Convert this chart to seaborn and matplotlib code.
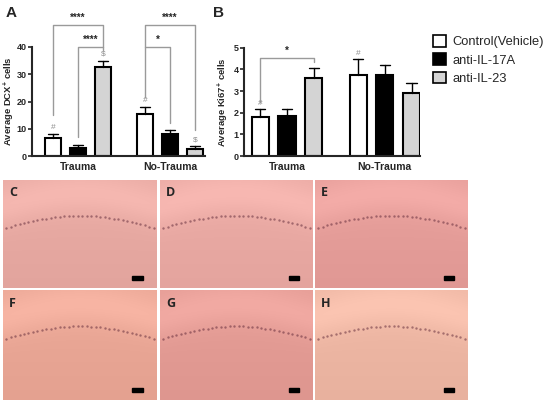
"""Figure: DCX+ and Ki67+ counts per treatment, with histology panels."""

import numpy as np
import pandas as pd
import matplotlib
matplotlib.use("Agg")
import matplotlib.pyplot as plt
import seaborn as sns
from matplotlib.patches import Patch, Rectangle

# --- data ---
groups = ["Trauma", "No-Trauma"]
treatments = ["Control(Vehicle)", "anti-IL-17A", "anti-IL-23"]
dcx_mean = [6.7, 3.1, 32.6, 15.3, 8.1, 2.4]
dcx_sem = [1.5, 1.1, 2.4, 2.8, 1.5, 1.2]
ki67_mean = [1.78, 1.85, 3.60, 3.73, 3.76, 2.92]
ki67_sem = [0.37, 0.30, 0.47, 0.73, 0.42, 0.46]

# brackets: (group, treatment a, treatment b, y, left leg end, right leg end, label)
dcx_brackets = [
    (0, 0, 2, 48.0, 15.0, 40.0, "****"),
    (0, 1, 2, 40.0, 6.9, 38.9, "****"),
    (1, 0, 2, 48.0, 40.0, 9.4, "****"),
    (1, 0, 1, 40.0, 21.6, 12.0, "*"),
]
ki67_brackets = [
    (0, 0, 2, 4.51, 2.5, 4.35, "*"),
]
# symbols above bars: (group, treatment, symbol)
dcx_marks = [(0, 0, "#"), (0, 2, "$"), (1, 0, "#"), (1, 2, "$")]
ki67_marks = [(0, 0, "#"), (1, 0, "#")]

panel_labels = ["C", "D", "E", "F", "G", "H"]
panel_tints = ["#eaaca5", "#ecaca6", "#e8a09c", "#eca998", "#e69e97", "#f0b9a6"]

colors = {"Control(Vehicle)": "white", "anti-IL-17A": "black", "anti-IL-23": "#d4d4d4"}

sns.set_style("ticks")
plt.rcParams["font.family"] = ["Liberation Sans", "DejaVu Sans"]
plt.rcParams["mathtext.fontset"] = "custom"
plt.rcParams["mathtext.rm"] = "Liberation Sans"
plt.rcParams["mathtext.bf"] = "Liberation Sans:bold"

W, H = 550, 405
fig = plt.figure(figsize=(W / 100, H / 100), dpi=100)


def px_axes(x0, y0, x1, y1):
    return fig.add_axes([x0 / W, 1 - y1 / H, (x1 - x0) / W, (y1 - y0) / H])


def make_df(means, sems):
    rows = []
    for gi, g in enumerate(groups):
        for ti, t in enumerate(treatments):
            k = gi * 3 + ti
            rows.append({"group": g, "treatment": t, "mean": means[k], "sem": sems[k]})
    return pd.DataFrame(rows)


def bar_panel(ax, df, ylim, yticks, ylabel, brackets, marks, xlim, label_x):
    sns.barplot(data=df, x="group", y="mean", hue="treatment", order=groups,
                hue_order=treatments, palette=colors, saturation=1,
                edgecolor="black", linewidth=1.5, width=0.82, gap=0.36,
                errorbar=None, legend=False, ax=ax)
    centers = {}
    tops = {}
    for ti, cont in enumerate(ax.containers):
        for gi, bar in enumerate(cont):
            cx = bar.get_x() + bar.get_width() / 2
            row = df[(df.group == groups[gi]) & (df.treatment == treatments[ti])].iloc[0]
            top = row["mean"] + row["sem"]
            centers[(gi, ti)] = cx
            tops[(gi, ti)] = top
            hw = bar.get_width() * 0.3
            ax.plot([cx, cx], [row["mean"], top], color="black", lw=1.0, zorder=1)
            ax.plot([cx - hw, cx + hw], [top, top], color="black", lw=1.0, zorder=1)
    for gi, a, b, y, yl, yr, lab in brackets:
        xa, xb = centers[(gi, a)], centers[(gi, b)]
        ax.plot([xa, xa, xb, xb], [yl, y, y, yr], color="#9a9a9a", lw=1.0,
                clip_on=False, zorder=0)
        ax.annotate(lab, ((xa + xb) / 2, y), xytext=(0, 1.5), textcoords="offset points",
                    ha="center", va="bottom", fontsize=7, fontweight="bold",
                    annotation_clip=False)
    for gi, ti, sym in marks:
        ax.annotate(sym, (centers[(gi, ti)], tops[(gi, ti)]), xytext=(0, 2),
                    textcoords="offset points", ha="center", va="bottom",
                    fontsize=6, color="#8c8c8c", annotation_clip=False)
    ax.set_ylim(*ylim)
    ax.set_xlim(*xlim)
    ax.set_yticks(yticks)
    ax.set_xlabel("")
    ax.set_ylabel(ylabel, fontsize=6.8, fontweight="bold")
    ax.yaxis.set_label_coords(label_x, 0.5)
    ax.tick_params(axis="y", labelsize=6.5, width=1.2, length=3, pad=1)
    ax.tick_params(axis="x", labelsize=7.5, length=0, pad=4)
    for lab in ax.get_xticklabels() + ax.get_yticklabels():
        lab.set_fontweight("bold")
    sns.despine(ax=ax)
    for s in ("left", "bottom"):
        ax.spines[s].set_linewidth(1.5)


ax_a = px_axes(32, 47, 205, 156)
bar_panel(ax_a, make_df(dcx_mean, dcx_sem), (0, 40), [0, 10, 20, 30, 40],
          r"Average DCX$^{\mathbf{+}}$ cells", dcx_brackets, dcx_marks, (-0.5, 1.38),
          -0.088)
ax_b = px_axes(244, 47.7, 420, 156)
bar_panel(ax_b, make_df(ki67_mean, ki67_sem), (0, 5), [0, 1, 2, 3, 4, 5],
          r"Average Ki67$^{\mathbf{+}}$ cells", ki67_brackets, ki67_marks, (-0.44, 1.36),
          -0.075)

fig.text(6 / W, 1 - 13 / H, "A", fontsize=11, fontweight="bold", va="center")
fig.text(213 / W, 1 - 13 / H, "B", fontsize=11, fontweight="bold", va="center")

handles = [Patch(facecolor=colors[t], edgecolor="black", linewidth=1.2, label=t)
           for t in treatments]
fig.legend(handles=handles, loc="upper left", bbox_to_anchor=(433 / W, 1 - 35 / H),
           frameon=False, fontsize=9.3, handlelength=1.0, handleheight=1.0,
           handletextpad=0.5, labelspacing=0.4, borderaxespad=0, borderpad=0)

# --- histology panels (stand-in tissue fields) ---
cols = [(3, 157), (160, 313), (315, 468)]
rows_px = [(180, 288), (290, 400)]
yy, xx = np.mgrid[0:1:108j, 0:1:154j]
for k, lab in enumerate(panel_labels):
    x0, x1 = cols[k % 3]
    y0, y1 = rows_px[k // 3]
    ax = px_axes(x0, y0, x1, y1)
    base = np.array(matplotlib.colors.to_rgb(panel_tints[k]))
    band = 0.45 - 0.12 * np.sin(np.pi * xx)
    light = 0.05 * np.exp(-((yy - band + 0.2) / 0.18) ** 2)
    shade = -0.03 * yy
    img = np.clip(base[None, None, :] + (light + shade)[..., None], 0, 1)
    ax.imshow(img, extent=(0, 1, 0, 1), aspect="auto", origin="upper")
    arc_x = np.linspace(0.02, 0.98, 34)
    arc_y = 0.55 + 0.12 * np.sin(np.pi * arc_x)
    ax.scatter(arc_x, arc_y, s=3, color="#5a2435", alpha=0.5, lw=0)
    ax.add_patch(Rectangle((0.84, 0.07), 0.07, 0.04, color="black"))
    ax.text(0.04, 0.88, lab, transform=ax.transAxes, fontsize=9, fontweight="bold",
            va="center", ha="left", family=["Open Sans", "DejaVu Sans"])
    ax.set_xlim(0, 1)
    ax.set_ylim(0, 1)
    ax.set_axis_off()

fig.savefig("out.png", dpi=100)
